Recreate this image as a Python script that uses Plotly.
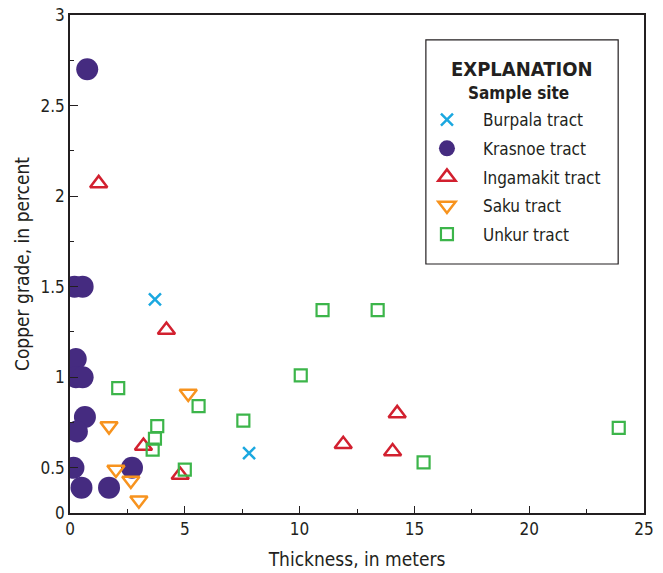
import plotly.graph_objects as go

# Sample sites: thickness (m) and copper grade (%)
burpala_x = [3.7, 7.8]
burpala_y = [1.43, 0.58]

krasnoe_x = [0.75, 0.2, 0.55, 0.25, 0.25, 0.55, 0.65, 0.3, 0.15, 0.5, 1.7, 2.7]
krasnoe_y = [2.70, 1.5, 1.5, 1.1, 1.0, 1.0, 0.78, 0.7, 0.5, 0.39, 0.39, 0.5]

ingamakit_x = [1.25, 4.2, 3.2, 4.8, 11.9, 14.25, 14.05]
ingamakit_y = [2.07, 1.26, 0.62, 0.46, 0.63, 0.80, 0.59]

saku_x = [5.15, 1.7, 2.0, 2.65, 3.0]
saku_y = [0.91, 0.73, 0.49, 0.43, 0.32]

unkur_x = [2.1, 5.6, 3.8, 3.7, 3.6, 5.0, 7.55, 10.05, 11.0, 13.4, 15.4, 23.9]
unkur_y = [0.94, 0.84, 0.73, 0.66, 0.60, 0.49, 0.76, 1.01, 1.37, 1.37, 0.53, 0.72]

# y axis in the original starts at 0.25 but is labelled "0"
y_tickvals = [0.25, 0.5, 1, 1.5, 2, 2.5, 3]
y_ticktext = ["0", "0.5", "1", "1.5", "2", "2.5", "3"]
y_minor = [0.75, 1.25, 1.75, 2.25, 2.75]

FONT = "DejaVu Sans Condensed, Liberation Sans Narrow, Arial Narrow, sans-serif"
INK = "#231f20"

fig = go.Figure()

fig.add_trace(go.Scatter(x=burpala_x, y=burpala_y, mode="markers", name="Burpala tract",
                         legendgroup="a",
                         marker=dict(symbol="x-thin-open", size=12, color="#1ba8e0",
                                     line=dict(color="#1ba8e0", width=2.5))))
fig.add_trace(go.Scatter(x=krasnoe_x, y=krasnoe_y, mode="markers", name="Krasnoe tract",
                         legendgroup="b",
                         marker=dict(symbol="circle", size=22, color="#452b80",
                                     line=dict(width=0))))
fig.add_trace(go.Scatter(x=ingamakit_x, y=ingamakit_y, mode="markers", name="Ingamakit tract",
                         legendgroup="c",
                         marker=dict(symbol="triangle-up-open", size=15, color="#d2202f",
                                     line=dict(color="#d2202f", width=2.5))))
fig.add_trace(go.Scatter(x=saku_x, y=saku_y, mode="markers", name="Saku tract",
                         legendgroup="d",
                         marker=dict(symbol="triangle-down-open", size=15, color="#f7931e",
                                     line=dict(color="#f7931e", width=2.5))))
fig.add_trace(go.Scatter(x=unkur_x, y=unkur_y, mode="markers", name="Unkur tract",
                         legendgroup="e",
                         marker=dict(symbol="square-open", size=12, color="#3cb54a",
                                     line=dict(color="#3cb54a", width=2.2))))

# explanation box
fig.add_shape(type="rect", xref="paper", yref="paper", x0=0.62, x1=0.955, y0=0.50, y1=0.95,
              line=dict(color=INK, width=1.2), fillcolor="white", layer="below")
fig.add_annotation(text="<b>EXPLANATION</b>", xref="paper", yref="paper", x=0.787, y=0.892,
                   xanchor="center", yanchor="middle",
                   showarrow=False, font=dict(family=FONT, size=20, color=INK))
fig.add_annotation(text="<b>Sample site</b>", xref="paper", yref="paper", x=0.69, y=0.843,
                   xanchor="left", yanchor="middle",
                   showarrow=False, font=dict(family=FONT, size=17, color=INK))

# page body adds an 8px offset, so the figure is 8px smaller than the window
fig.update_layout(
    width=655, height=565,
    margin=dict(l=62, r=19, t=7, b=60),
    paper_bgcolor="white", plot_bgcolor="white",
    font=dict(family=FONT, size=17, color=INK),
    showlegend=True,
    legend=dict(x=0.594, y=0.825, xanchor="left", yanchor="top",
                bgcolor="rgba(0,0,0,0)", borderwidth=0,
                font=dict(family=FONT, size=17, color=INK),
                itemwidth=62, tracegroupgap=3.5, traceorder="grouped"),
    xaxis=dict(range=[0, 25], tickvals=[0, 5, 10, 15, 20, 25], automargin=False,
               ticks="inside", ticklen=7, tickwidth=1.2, tickcolor=INK,
               tickfont=dict(size=17), ticklabeloverflow="allow",
               minor=dict(dtick=2.5, tick0=0, ticks="inside", ticklen=4, tickcolor=INK),
               showline=True, linecolor=INK, linewidth=1.5, mirror=True,
               showgrid=False, zeroline=False,
               title=dict(text="Thickness, in meters",
                          font=dict(family=FONT, size=19, color=INK))),
    yaxis=dict(range=[0.25, 3], tickvals=y_tickvals, ticktext=y_ticktext, automargin=False,
               ticks="inside", ticklen=8, tickwidth=1.2, tickcolor=INK,
               tickfont=dict(size=17), ticklabeloverflow="allow",
               minor=dict(tickvals=y_minor, ticks="inside", ticklen=4, tickcolor=INK),
               showline=True, linecolor=INK, linewidth=1.5, mirror=True,
               showgrid=False, zeroline=False,
               title=dict(text="Copper grade, in percent", standoff=6,
                          font=dict(family=FONT, size=19, color=INK))),
)

fig.write_html("out.html")
